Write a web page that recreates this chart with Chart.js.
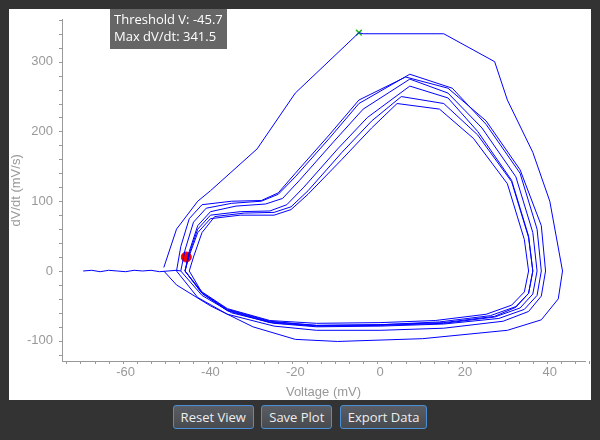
<!DOCTYPE html>
<html><head><meta charset="utf-8">
<script src="https://cdn.jsdelivr.net/npm/chart.js@4"></script>
<style>
html,body{margin:0;padding:0;background:#333;width:600px;height:440px;overflow:hidden;font-family:"Open Sans",sans-serif}
#panel{position:absolute;left:9px;top:9px;width:582px;height:391px;background:#fff}
#btns{position:absolute;top:405px;left:0;width:600px;text-align:center;font-size:13px}
.b{display:inline-block;height:22px;line-height:22px;padding:0 7px;margin:0 2px;color:#eee;background:linear-gradient(#5a5e64,#474a4f);border:1px solid #4a90d9;border-radius:3px}
</style></head><body>
<div id="panel"><canvas id="c" width="582" height="391"></canvas></div>
<div id="btns"><span class="b">Reset View</span> <span class="b">Save Plot</span> <span class="b">Export Data</span></div>
<script>
const baselineV=[-70,-68,-66,-64,-62,-60,-58,-56,-54,-52,-50,-48,-47];
const baselineD=[0,1,-1,1,0,-1,1,0,1,-1,0,1,0];
const outerV=[-51,-48,-43,-40,-29,-20,-5,-4,15,27,30,36,40,43,42,38,30,10,-10,-20,-30,-40,-48,-51];
const outerD=[5,60,100,115,175,255,341.5,340,340,300,245,170,100,0,-40,-70,-85,-97,-101,-98,-80,-50,-20,0];
const loop1V=[-47,-46,-44,-41,-35,-28,-24,-20,-12,-5,7,17,25,33,37,38,37,34,28,15,0,-15,-25,-35,-42,-47];
const loop1D=[0,30,70,90,97,100,110,135,190,240,282,262,210,140,60,0,-35,-55,-68,-76,-79,-80,-75,-60,-35,0];
const loop2V=[-46,-45,-43,-40,-34,-27,-23,-19,-11,-4,7,16,24,32,36,37,36,33,27,15,0,-15,-26,-36,-42,-46];
const loop2D=[0,28,65,85,93,96,104,130,185,232,275,255,205,135,55,0,-33,-53,-66,-75,-78,-79,-74,-57,-32,0];
const loop3V=[-46,-45,-43,-40,-33,-26,-22,-18,-10,-3,7,16,23,31,35,36,35,32,26,14,0,-15,-26,-36,-42,-46];
const loop3D=[0,25,60,80,85,86,95,120,175,220,265,248,200,130,50,0,-32,-51,-64,-73,-77,-78,-73,-56,-32,0];
const loop4V=[-46,-45,-43,-40,-33,-25,-21,-17,-9,-2,4,14,22,30,34,35,34,31,25,13,0,-15,-26,-36,-42,-46];
const loop4D=[0,22,55,75,80,80,88,110,160,205,240,232,190,125,45,0,-30,-49,-62,-71,-74,-75,-71,-54,-30,0];
const loop5V=[-45,-44,-42,-39,-32,-25,-21,-17,-9,-2,5,15,23,31,35,36,35,32,27,15,0,-15,-26,-36,-42,-45];
const loop5D=[0,20,55,78,83,84,92,115,170,215,250,240,195,128,48,0,-32,-52,-65,-74,-77,-78,-72,-55,-31,0];
const loop6V=[-48,-47,-45,-42,-35,-28,-24,-20,-12,-5,6,16,25,33,38,39,38,35,29,15,0,-15,-25,-36,-43,-48];
const loop6D=[0,35,75,95,100,101,112,140,195,245,278,262,215,145,65,0,-36,-58,-72,-82,-85,-85,-79,-62,-38,0];
const loopVs=[loop1V,loop2V,loop3V,loop4V,loop5V,loop6V];
const loopDs=[loop1D,loop2D,loop3D,loop4D,loop5D,loop6D];
const thresholdV=-45.7, thresholdD=20, peakV=-5, peakD=341.5;

const pts=(a,b)=>a.map((x,i)=>({x:x,y:b[i]}));
const line=(a,b)=>({data:pts(a,b),showLine:true,borderColor:'#0000ff',borderWidth:1,pointRadius:0,tension:0});
const datasets=[line(baselineV,baselineD),line(outerV,outerD)];
loopVs.forEach((v,i)=>datasets.push(line(v,loopDs[i])));
datasets.push({data:[{x:thresholdV,y:thresholdD}],pointRadius:5,backgroundColor:'#ff0000',borderColor:'#ff0000'});
datasets.push({data:[{x:peakV,y:peakD}],pointStyle:'crossRot',pointRadius:4,borderColor:'#22bb22',borderWidth:1.5});

const extras={id:'extras',afterDraw(ch){
  const c=ch.ctx,x=ch.scales.x,y=ch.scales.y,a=ch.chartArea;
  c.save();c.strokeStyle='#999';c.lineWidth=1;
  for(let v=-74;v<=50;v+=10/3){const p=Math.round(x.getPixelForValue(v))+0.5;if(p<a.left)continue;c.beginPath();c.moveTo(p,a.bottom);c.lineTo(p,a.bottom+3);c.stroke();}
  for(let v=-120;v<=380;v+=20){const p=Math.round(y.getPixelForValue(v))+0.5;if(p>a.bottom||p<a.top)continue;c.beginPath();c.moveTo(a.left-3,p);c.lineTo(a.left,p);c.stroke();}
  c.fillStyle='#666';c.fillRect(101,0,117,40);
  c.fillStyle='#fff';c.font='13px "Open Sans"';c.textBaseline='top';
  c.fillText('Threshold V: -45.7',105,5);c.fillText('Max dV/dt: 341.5',105,22);
  c.restore();}};

new Chart(document.getElementById('c'),{type:'scatter',data:{datasets},
options:{responsive:false,animation:false,layout:{padding:0},
plugins:{legend:{display:false},tooltip:{enabled:false}},
scales:{
x:{type:'linear',min:-75,max:48.3,grid:{display:false,tickLength:4},border:{color:'#999'},
  afterBuildTicks(s){s.ticks=[-60,-40,-20,0,20,40].map(v=>({value:v}));},
  afterFit(s){s.height=39;},
  ticks:{color:'#999',font:{size:13},padding:0},
  title:{display:true,text:'Voltage (mV)',color:'#999',font:{size:13},padding:{top:2,bottom:0}}},
y:{type:'linear',min:-129,max:360,grid:{display:false,tickLength:6},border:{color:'#999'},
  afterBuildTicks(s){s.ticks=[-100,0,100,200,300].map(v=>({value:v}));},
  afterFit(s){s.width=53;},
  ticks:{color:'#999',font:{size:13},padding:3},
  title:{display:true,text:'dV/dt (mV/s)',color:'#999',font:{size:13},padding:{top:0,bottom:0}}}}},
plugins:[extras]});
</script></body></html>
